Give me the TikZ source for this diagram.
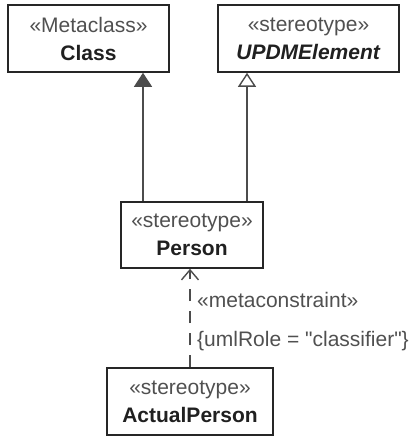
\documentclass[tikz,border=0pt]{standalone}
\usepackage{fontspec}
\setmainfont{Liberation Sans}
\newfontfamily\lblfont{Liberation Sans}
\usetikzlibrary{arrows.meta}
\definecolor{stereogray}{HTML}{505050}
\definecolor{namedark}{HTML}{202020}
\newcommand\stname[1]{{\color{stereogray}«#1»}}
\begin{document}
\begin{tikzpicture}[x=1pt,y=1pt,
  umlbox/.style={draw=black!85,line width=1.6pt,align=center,inner sep=0pt,text=namedark,font=\fontsize{21}{28}\selectfont},
  conn/.style={line width=1.4pt,draw=black!70},
  lbl/.style={anchor=west,inner sep=0pt,text=stereogray,font=\lblfont\fontsize{21}{28}\selectfont}]
\useasboundingbox (0,0) rectangle (411,-438);
\node[umlbox,minimum width=161,minimum height=67] (Class) at (88.5,-38.5) {\stname{Metaclass}\\\textbf{Class}};
\node[umlbox,minimum width=181,minimum height=67] (UPDMElement) at (308.5,-38.5) {\stname{stereotype}\\\textbf{\textit{UPDMElement}}};
\node[umlbox,minimum width=142,minimum height=66] (Person) at (192,-235) {\stname{stereotype}\\\textbf{Person}};
\node[umlbox,minimum width=166,minimum height=67] (ActualPerson) at (190,-401.5) {\stname{stereotype}\\\textbf{ActualPerson}};
\draw[conn,-{Triangle[width=18pt,length=14pt]}] ([xshift=-49pt]Person.north) -- ([xshift=-49pt]Person.north |- Class.south);
\draw[conn,-{Triangle[open,width=18pt,length=14pt,fill=white]}] ([xshift=55pt]Person.north) -- ([xshift=55pt]Person.north |- UPDMElement.south);
\draw[conn,dash pattern=on 12pt off 10pt,-{Straight Barb[width=17pt,length=10pt]}] (ActualPerson.north) -- (ActualPerson.north |- Person.south);
\node[lbl] (metaconstraint) at (197,-300) {«metaconstraint»};
\node[lbl] (umlRole) at (197,-341) {\{umlRole = "classifier"\}};
\end{tikzpicture}
\end{document}
